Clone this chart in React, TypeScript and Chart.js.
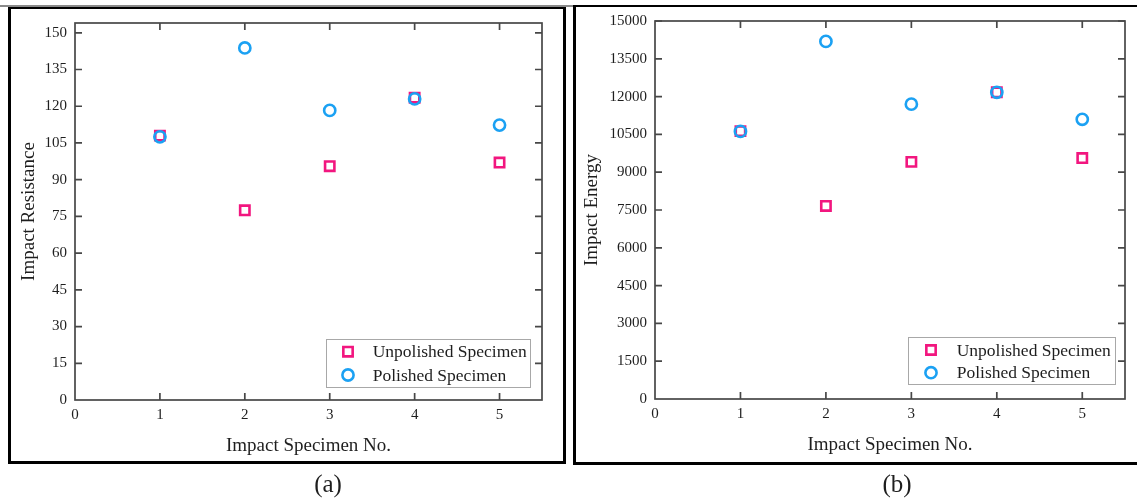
import React, { useEffect, useRef } from 'react';
import { Chart, registerables } from 'chart.js';

Chart.register(...registerables);

// ---------- data ----------
const specimenNo = [1, 2, 3, 4, 5];
const resistanceUnpolished = [108, 77.5, 95.5, 123.5, 97];
const resistancePolished = [107.5, 143.8, 118.3, 123, 112.3];
const energyUnpolished = [10630, 7660, 9410, 12170, 9560];
const energyPolished = [10620, 14190, 11700, 12170, 11100];
const xTickValues = [0, 1, 2, 3, 4, 5];
const resistanceTickValues = [0, 15, 30, 45, 60, 75, 90, 105, 120, 135, 150];
const energyTickValues = [0, 1500, 3000, 4500, 6000, 7500, 9000, 10500, 12000, 13500, 15000];
const seriesNames = ['Unpolished Specimen', 'Polished Specimen'];
const xTitle = 'Impact Specimen No.';

const FONT = "'Liberation Serif', 'Times New Roman', serif";
const PINK = '#F2167F';
const BLUE = '#1BA1F3';
const TEXT = '#1e1e1e';
const AXIS = '#474747';

const framePlugin = {
  id: 'frameTicks',
  beforeDatasetsDraw(chart: any) {
    const { ctx, chartArea: a, scales } = chart;
    ctx.save();
    ctx.strokeStyle = AXIS;
    ctx.lineWidth = 1.7;
    ctx.strokeRect(a.left, a.top, a.right - a.left, a.bottom - a.top);
    const L = 7;
    ctx.beginPath();
    scales.x.ticks.forEach((t: any) => {
      if (t.value === scales.x.min) return;
      const px = scales.x.getPixelForValue(t.value);
      ctx.moveTo(px, a.bottom);
      ctx.lineTo(px, a.bottom - L);
      ctx.moveTo(px, a.top);
      ctx.lineTo(px, a.top + L);
    });
    scales.y.ticks.forEach((t: any) => {
      if (t.value === scales.y.min) return;
      const py = scales.y.getPixelForValue(t.value);
      ctx.moveTo(a.left, py);
      ctx.lineTo(a.left + L, py);
      ctx.moveTo(a.right, py);
      ctx.lineTo(a.right - L, py);
    });
    ctx.stroke();
    ctx.restore();
  },
  afterDatasetsDraw(chart: any, _args: any, opts: any) {
    const lg = opts && opts.box;
    if (!lg) return;
    const { ctx } = chart;
    ctx.save();
    ctx.fillStyle = '#ffffff';
    ctx.fillRect(lg.x, lg.y, lg.w, lg.h);
    ctx.strokeStyle = '#a8a8a8';
    ctx.lineWidth = 1;
    ctx.strokeRect(lg.x + 0.5, lg.y + 0.5, lg.w, lg.h);
    chart.data.datasets.forEach((ds: any, i: number) => {
      const cy = lg.rowY[i];
      const cx = lg.markerX;
      ctx.strokeStyle = ds.borderColor;
      ctx.lineWidth = ds.pointBorderWidth;
      ctx.beginPath();
      if (ds.pointStyle === 'rect') {
        const s = Math.SQRT1_2 * ds.pointRadius;
        ctx.rect(cx - s, cy - s, 2 * s, 2 * s);
      } else {
        ctx.arc(cx, cy, ds.pointRadius, 0, Math.PI * 2);
      }
      ctx.stroke();
      ctx.fillStyle = TEXT;
      ctx.font = `17.5px ${FONT}`;
      ctx.textBaseline = 'middle';
      ctx.textAlign = 'left';
      ctx.fillText(ds.label, lg.textX, cy + 1);
    });
    ctx.restore();
  },
};

function makeConfig(opts: {
  unpolished: number[];
  polished: number[];
  yTicks: number[];
  yMax: number;
  yTitle: string;
  yTitlePad: number;
  yAxisWidth: number;
  padding: { top: number; right: number; bottom: number; left: number };
  legendBox: any;
}) {
  const toPts = (arr: number[]) => specimenNo.map((x, i) => ({ x, y: arr[i] }));
  return {
    type: 'scatter',
    data: {
      datasets: [
        {
          label: seriesNames[0],
          data: toPts(opts.unpolished),
          pointStyle: 'rect',
          pointRadius: 6.6,
          pointHoverRadius: 6.6,
          pointBorderWidth: 2.6,
          borderColor: PINK,
          backgroundColor: 'rgba(0,0,0,0)',
          order: 2,
        },
        {
          label: seriesNames[1],
          data: toPts(opts.polished),
          pointStyle: 'circle',
          pointRadius: 5.6,
          pointHoverRadius: 5.6,
          pointBorderWidth: 2.6,
          borderColor: BLUE,
          backgroundColor: 'rgba(0,0,0,0)',
          order: 1,
        },
      ],
    },
    options: {
      animation: false,
      responsive: false,
      devicePixelRatio: 1,
      layout: { padding: opts.padding },
      plugins: {
        legend: { display: false },
        tooltip: { enabled: false },
        frameTicks: { box: opts.legendBox },
      },
      scales: {
        x: {
          type: 'linear',
          min: 0,
          max: 5.5,
          grid: { display: false, drawTicks: false },
          border: { display: false },
          afterBuildTicks: (s: any) => {
            s.ticks = xTickValues.map((v) => ({ value: v }));
          },
          afterFit: (s: any) => {
            s.height = 60;
          },
          ticks: {
            padding: 6,
            color: TEXT,
            font: { family: FONT, size: 15 },
            callback: (v: any) => String(v),
          },
          title: {
            display: true,
            text: xTitle,
            color: TEXT,
            font: { family: FONT, size: 19 },
            padding: { top: 0, bottom: 3 },
          },
        },
        y: {
          type: 'linear',
          min: 0,
          max: opts.yMax,
          grid: { display: false, drawTicks: false },
          border: { display: false },
          afterBuildTicks: (s: any) => {
            s.ticks = opts.yTicks.map((v) => ({ value: v }));
          },
          afterFit: (s: any) => {
            s.width = opts.yAxisWidth;
          },
          ticks: {
            padding: 8,
            color: TEXT,
            font: { family: FONT, size: 15 },
            callback: (v: any) => String(v),
          },
          title: {
            display: true,
            text: opts.yTitle,
            color: TEXT,
            font: { family: FONT, size: 19 },
            padding: { top: opts.yTitlePad, bottom: 0 },
          },
        },
      },
    },
    plugins: [framePlugin],
  };
}

function ChartCanvas({ config, left, width }: { config: any; left: number; width: number }) {
  const ref = useRef<HTMLCanvasElement | null>(null);
  useEffect(() => {
    if (!ref.current) return;
    const chart = new Chart(ref.current, config);
    return () => chart.destroy();
  }, [config]);
  return (
    <canvas
      ref={ref}
      width={width}
      height={499}
      style={{ position: 'absolute', left, top: 0, width, height: 499 }}
    />
  );
}

const leftConfig = makeConfig({
  unpolished: resistanceUnpolished,
  polished: resistancePolished,
  yTicks: resistanceTickValues,
  yMax: 154,
  yTitle: 'Impact Resistance',
  yTitlePad: 18,
  yAxisWidth: 75,
  padding: { top: 23, right: 28, bottom: 39, left: 0 },
  legendBox: { x: 326, y: 339, w: 204, h: 48, markerX: 348, rowY: [351.7, 375], textX: 372.7 },
});

const rightConfig = makeConfig({
  unpolished: energyUnpolished,
  polished: energyPolished,
  yTicks: energyTickValues,
  yMax: 15000,
  yTitle: 'Impact Energy',
  yTitlePad: 11,
  yAxisWidth: 85,
  padding: { top: 21, right: 12, bottom: 40, left: 0 },
  legendBox: { x: 338, y: 337, w: 207, h: 47, markerX: 361, rowY: [350, 372.7], textX: 386.7 },
});

export default function App() {
  return (
    <div style={{ position: 'absolute', left: 0, top: 0, width: 1137, height: 499, background: '#fff', overflow: 'hidden' }}>
      <ChartCanvas config={leftConfig} left={0} width={570} />
      <ChartCanvas config={rightConfig} left={570} width={567} />
      {/* top rule */}
      <div style={{ position: 'absolute', left: 0, top: 5, width: 573, height: 2, background: '#8a8a8a' }} />
      {/* panel frames */}
      <div
        style={{
          position: 'absolute', left: 8, top: 7, width: 558, height: 457, boxSizing: 'border-box',
          borderLeft: '3px solid #000', borderRight: '3px solid #000', borderTop: '2px solid #000', borderBottom: '3px solid #000',
        }}
      />
      <div
        style={{
          position: 'absolute', left: 573, top: 5, width: 564, height: 460, boxSizing: 'border-box',
          borderLeft: '3px solid #000', borderTop: '2px solid #000', borderBottom: '3px solid #000',
        }}
      />
      <div style={{ position: 'absolute', left: 228, top: 470, width: 200, textAlign: 'center', fontFamily: FONT, fontSize: 25, color: TEXT, lineHeight: '28px' }}>(a)</div>
      <div style={{ position: 'absolute', left: 797, top: 470, width: 200, textAlign: 'center', fontFamily: FONT, fontSize: 25, color: TEXT, lineHeight: '28px' }}>(b)</div>
    </div>
  );
}
